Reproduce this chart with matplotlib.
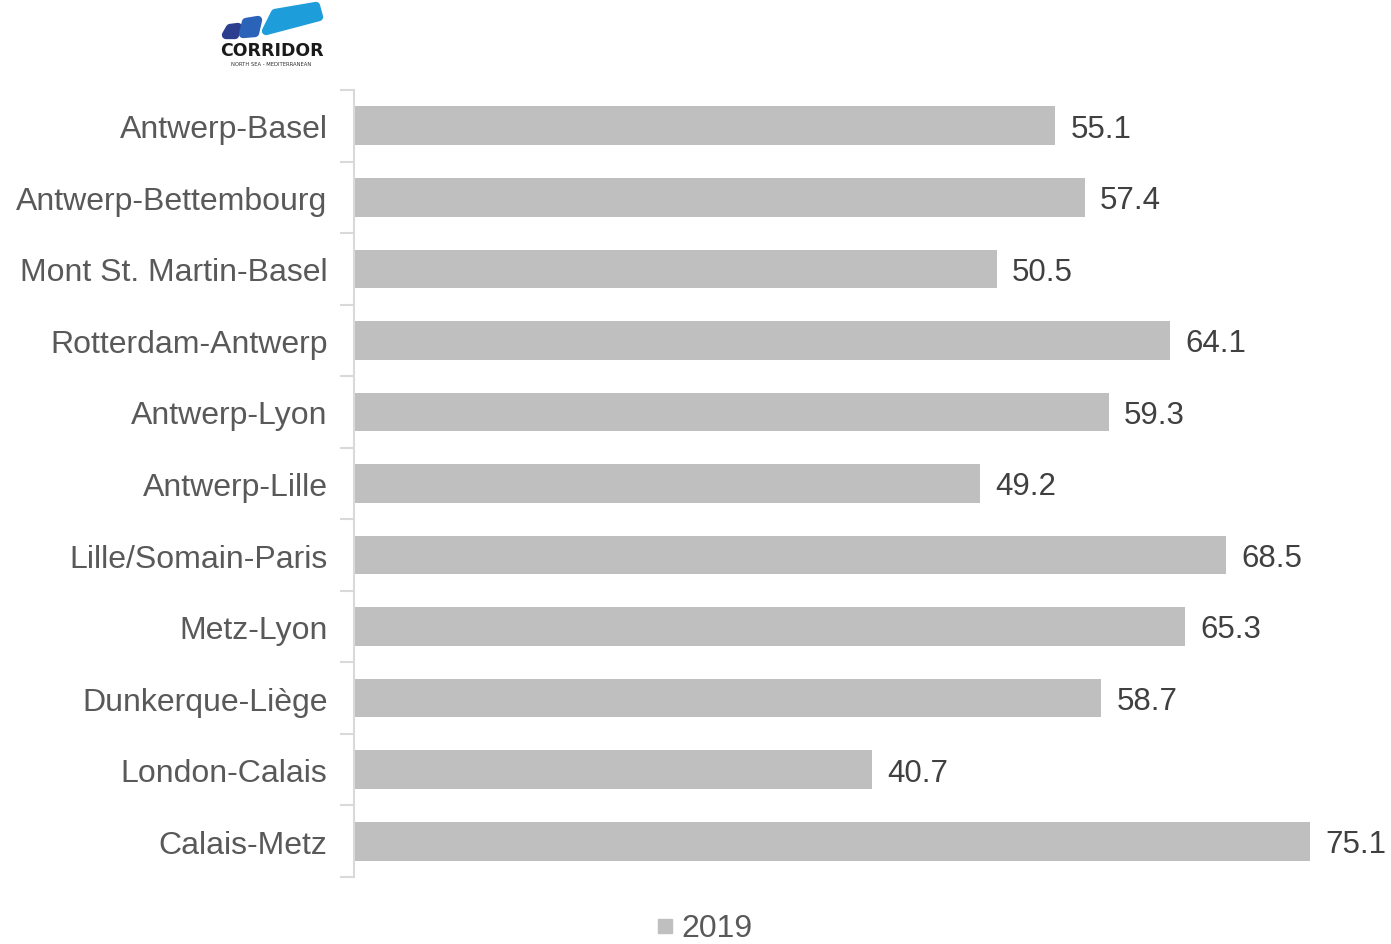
import matplotlib
matplotlib.use("Agg")
import matplotlib.pyplot as plt
from matplotlib.patches import Polygon, Rectangle

categories = ["Antwerp-Basel", "Antwerp-Bettembourg", "Mont St. Martin-Basel",
              "Rotterdam-Antwerp", "Antwerp-Lyon", "Antwerp-Lille",
              "Lille/Somain-Paris", "Metz-Lyon", "Dunkerque-Liège",
              "London-Calais", "Calais-Metz"]
values = [55.1, 57.4, 50.5, 64.1, 59.3, 49.2, 68.5, 65.3, 58.7, 40.7, 75.1]
series_name = "2019"

plt.rcParams['font.family'] = ['Liberation Sans', 'DejaVu Sans']

W, H = 1391, 945
fig = plt.figure(figsize=(W/100, H/100), dpi=100)
ax_l, ax_r, ax_t, ax_b = 354, 1391, 91, 878
ax = fig.add_axes([ax_l/W, 1-ax_b/H, (ax_r-ax_l)/W, (ax_b-ax_t)/H])

bar_color = "#bfbfbf"
y = list(range(len(categories)))
ax.barh(y, values, height=0.54, color=bar_color, zorder=2)
ax.set_ylim(len(categories)-0.5, -0.5)
xmax = (ax_r-ax_l)/((1310-354)/75.1)
ax.set_xlim(0, xmax)

for yi, v in zip(y, values):
    ax.text(v + 1.2, yi + 0.04, f"{v:.1f}", va="center", ha="left",
            fontsize=22.5, color="#404040", clip_on=False)

ax.set_yticks([i - 0.5 for i in range(len(categories)+1)], minor=False)
ax.set_yticklabels([])
ax.set_yticks(y, minor=True)
ax.set_yticklabels(categories, minor=True)
ax.tick_params(axis='y', which='major', length=10, color="#d9d9d9", width=1.5)
ax.tick_params(axis='y', which='minor', length=0, pad=19, labelsize=23, labelcolor="#595959")
ax.set_xticks([])
for s in ["top", "right", "bottom"]:
    ax.spines[s].set_visible(False)
ax.spines["left"].set_color("#d9d9d9")
ax.spines["left"].set_linewidth(1.5)

# legend
fig.patches.append(Rectangle((658/W, 1-934/H), 14/W, 14/H, transform=fig.transFigure,
                             color=bar_color, figure=fig))
fig.text(681/W, 1-944/H, series_name, fontsize=23, color="#595959", va="bottom",
         ha="left")

# logo approximation (pixel coords)
lx = fig.add_axes([0, 0, 1, 1])
lx.set_xlim(0, W); lx.set_ylim(H, 0); lx.axis("off")
shapes = [
    ([(230, 29), (238, 28), (235, 36), (226, 36)], "#2c3f8f"),
    ([(246, 23), (258, 21), (255, 34), (243, 35)], "#2a63b8"),
    ([(275, 14), (316, 7), (319, 18), (266, 32)], "#1e9ddb"),
]
for pts, c in shapes:
    lx.add_patch(Polygon(pts, closed=True, facecolor=c, edgecolor=c,
                         linewidth=6, joinstyle="round"))
lx.text(271.5, 51.5, "CORRIDOR", ha="center", va="center", fontsize=12.5, fontweight="bold",
        color="#1a1a1a", family="DejaVu Sans")
lx.text(271.5, 64, "NORTH SEA - MEDITERRANEAN", ha="center", va="center", fontsize=3.8,
        color="#333333", family="DejaVu Sans")

fig.savefig("out.png", dpi=100)
